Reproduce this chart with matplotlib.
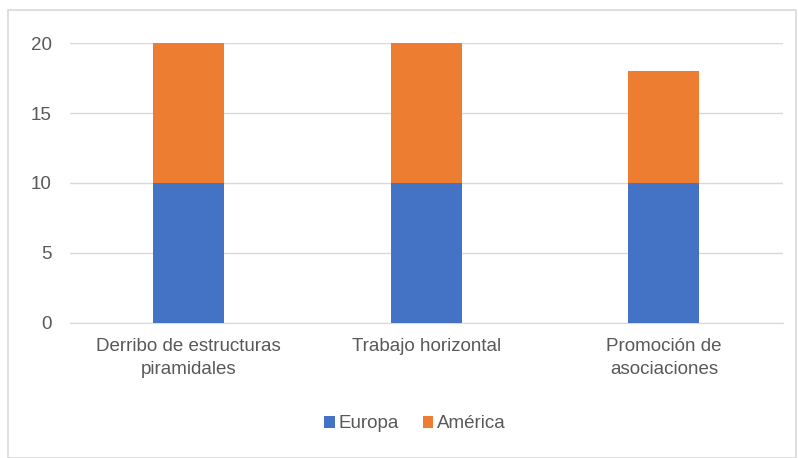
import matplotlib
matplotlib.use("Agg")
import matplotlib.pyplot as plt
from matplotlib.patches import Rectangle
import numpy as np

categories = ["Derribo de estructuras\npiramidales", "Trabajo horizontal", "Promoción de\nasociaciones"]
europa = [10, 10, 10]
america = [10, 10, 8]

plt.rcParams['font.family'] = ['Liberation Sans', 'DejaVu Sans']
text_color = '#595959'
fs = 13.5

fig = plt.figure(figsize=(7.98, 4.58), dpi=100)
ax = fig.add_axes([0.0877, 0.295, 0.893, 0.611])

# outer chart frame
fig.patches.append(Rectangle((8 / 798, 0), 788 / 798, 448 / 458, transform=fig.transFigure,
                             fill=False, edgecolor='#d9d9d9', linewidth=1.2))

x = np.arange(len(categories))
w = 0.30
ax.bar(x, europa, w, color='#4472c4', label='Europa', zorder=3)
ax.bar(x, america, w, bottom=europa, color='#ed7d31', label='América', zorder=3)

ax.set_xlim(-0.5, len(categories) - 0.5)
ax.set_ylim(0, 20)
ax.set_yticks([0, 5, 10, 15, 20])
ax.yaxis.grid(True, color='#d9d9d9', linewidth=1)
ax.set_axisbelow(True)
for s in ['top', 'right', 'left']:
    ax.spines[s].set_visible(False)
ax.spines['bottom'].set_color('#d9d9d9')
ax.tick_params(axis='both', length=0, colors=text_color, labelsize=fs)
ax.tick_params(axis='y', pad=13)
ax.tick_params(axis='x', pad=11)
ax.set_xticks(x)
ax.set_xticklabels(categories, linespacing=1.45)

ax.legend(loc='center', bbox_to_anchor=(415 / 798, 1 - 424 / 458), bbox_transform=fig.transFigure,
          ncol=2, frameon=False, fontsize=fs, labelcolor=text_color,
          handlelength=0.55, handleheight=0.55, handletextpad=0.2, columnspacing=1.3)

fig.savefig('out.png', dpi=100)
